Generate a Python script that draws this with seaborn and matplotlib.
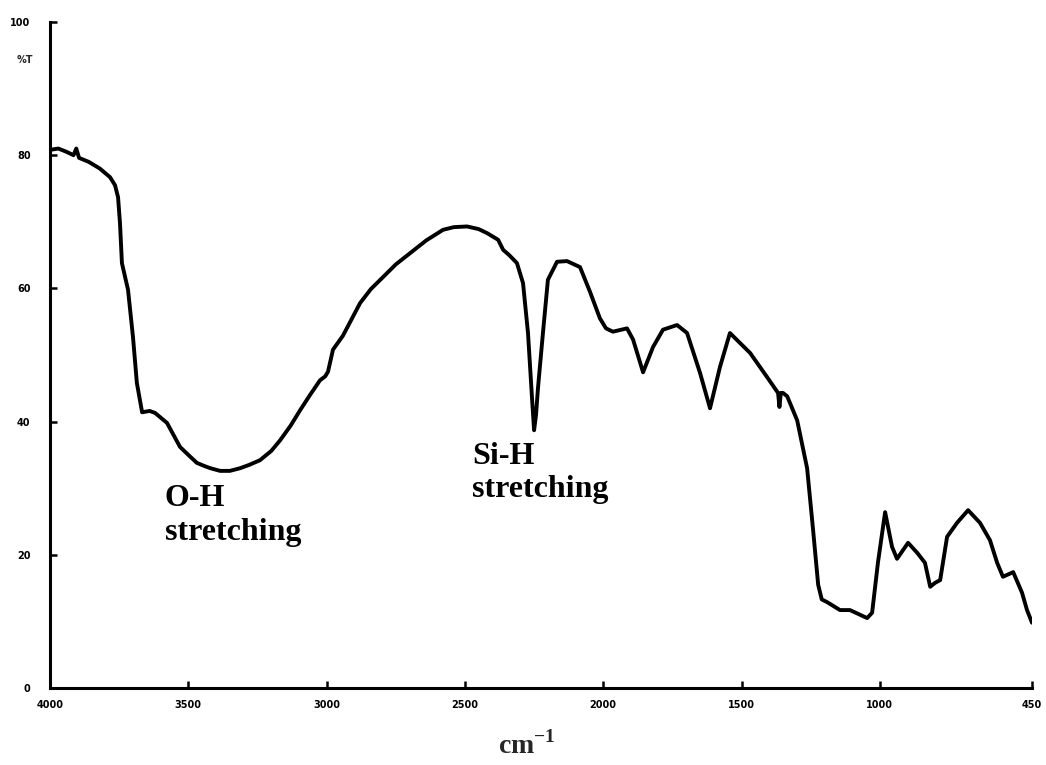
import matplotlib
matplotlib.use("Agg")
import matplotlib.pyplot as plt
import seaborn as sns
import pandas as pd

wavenumber = [4000, 3970, 3940, 3915, 3905, 3895, 3860, 3820, 3783, 3765, 3754, 3747, 3740,
              3718, 3700, 3686, 3667, 3640, 3620, 3577, 3530, 3500, 3469, 3440, 3420, 3385,
              3350, 3313, 3280, 3241, 3200, 3168, 3130, 3096, 3060, 3024, 3005, 2995, 2977,
              2941, 2879, 2840, 2796, 2750, 2698, 2640, 2579, 2540, 2492, 2450,
              2420, 2380, 2362, 2340, 2312, 2290, 2272, 2257, 2250, 2243, 2236, 2218, 2200,
              2167, 2131, 2084, 2048, 2012, 1990, 1965, 1914, 1892, 1856, 1820, 1784, 1733,
              1697, 1650, 1614, 1578, 1542, 1469, 1408, 1368, 1363, 1358, 1350, 1335, 1299,
              1263, 1242, 1223, 1210, 1191, 1144, 1108, 1046, 1028, 1007, 981, 956, 938, 898,
              865, 837, 818, 800, 782, 757, 721, 681, 638, 602, 576, 555, 518, 486, 468, 450]
transmittance = [80.8, 81.0, 80.5, 80.0, 81.0, 79.6, 79.0, 78.0, 76.7, 75.5, 73.7, 69.8, 63.8,
                 59.8, 52.7, 45.8, 41.4, 41.6, 41.3, 39.8, 36.2, 35.0, 33.8, 33.3, 33.0, 32.6,
                 32.6, 33.0, 33.5, 34.2, 35.6, 37.2, 39.4, 41.7, 44.0, 46.2, 46.8, 47.5, 50.8,
                 52.9, 57.8, 59.9, 61.7, 63.6, 65.3, 67.2, 68.8, 69.2, 69.3, 68.9,
                 68.3, 67.3, 65.8, 65.0, 63.8, 60.8, 53.3, 43.2, 38.7, 41.0, 45.0, 53.3, 61.3,
                 64.0, 64.1, 63.2, 59.5, 55.5, 54.0, 53.5, 54.0, 52.3, 47.4, 51.2, 53.8, 54.5,
                 53.3, 47.3, 42.0, 48.2, 53.3, 50.3, 46.7, 44.3, 42.2, 44.3, 44.3, 43.8, 40.2,
                 33.0, 24.0, 15.5, 13.3, 12.9, 11.7, 11.7, 10.5, 11.3, 18.8, 26.4, 21.2, 19.4, 21.8,
                 20.3, 18.8, 15.2, 15.8, 16.2, 22.7, 24.8, 26.7, 24.8, 22.2, 18.8, 16.7, 17.4, 14.3, 11.7, 9.8]

x_ticks = [4000, 3500, 3000, 2500, 2000, 1500, 1000, 450]
x_tick_labels = ["4000", "3500", "3000", "2500", "2000", "1500", "1000", "450"]
y_ticks = [0, 20, 40, 60, 80, 100]
y_tick_labels = ["0", "20", "40", "60", "80", "100"]
annotations = [("O-H\nstretching", 3585, 30.6), ("Si-H\nstretching", 2475, 37.0)]

sns.set_theme(style="white")
plt.rcParams["font.family"] = ["DejaVu Sans"]

fig = plt.figure(figsize=(10.46, 7.65), dpi=100)
ax = fig.add_axes([50 / 1046, 1 - 688 / 765, (1032 - 50) / 1046, (688 - 22) / 765])

df = pd.DataFrame({"wn": wavenumber, "T": transmittance})
sns.lineplot(data=df, x="wn", y="T", ax=ax, color="black", linewidth=2.8,
             sort=False, estimator=None)

ax.set_xlim(4000, 450)
ax.set_ylim(0, 100)
ax.set_xticks(x_ticks)
ax.set_xticklabels(x_tick_labels, fontsize=7, fontweight="heavy")
ax.set_yticks(y_ticks)
ax.set_yticklabels(y_tick_labels, fontsize=7, fontweight="heavy")
ax.tick_params(axis="both", direction="in", length=5, width=1.8, colors="black",
               bottom=True, left=True)
ax.tick_params(axis="x", pad=9)
ax.tick_params(axis="y", pad=14)
ax.set_xlabel("")
ax.set_ylabel("")

for side in ["top", "right"]:
    ax.spines[side].set_visible(False)
for side in ["left", "bottom"]:
    ax.spines[side].set_color("black")
    ax.spines[side].set_linewidth(2.2)

ax.text(-0.026, 94.3, "%T", transform=ax.get_yaxis_transform(), fontsize=7,
        fontweight="heavy", ha="center", va="center")

for text, xv, yv in annotations:
    ax.text(xv, yv, text, family="Liberation Serif", fontsize=23, fontweight="bold",
            ha="left", va="top", linespacing=1.2, color="black")

fig.text(527 / 1046, 1 - 745 / 765, r"cm$^{\mathregular{-1}}$", family="Liberation Serif",
         fontsize=20, fontweight="bold", ha="center", va="center")

fig.savefig("out.png", dpi=100, facecolor="white")
